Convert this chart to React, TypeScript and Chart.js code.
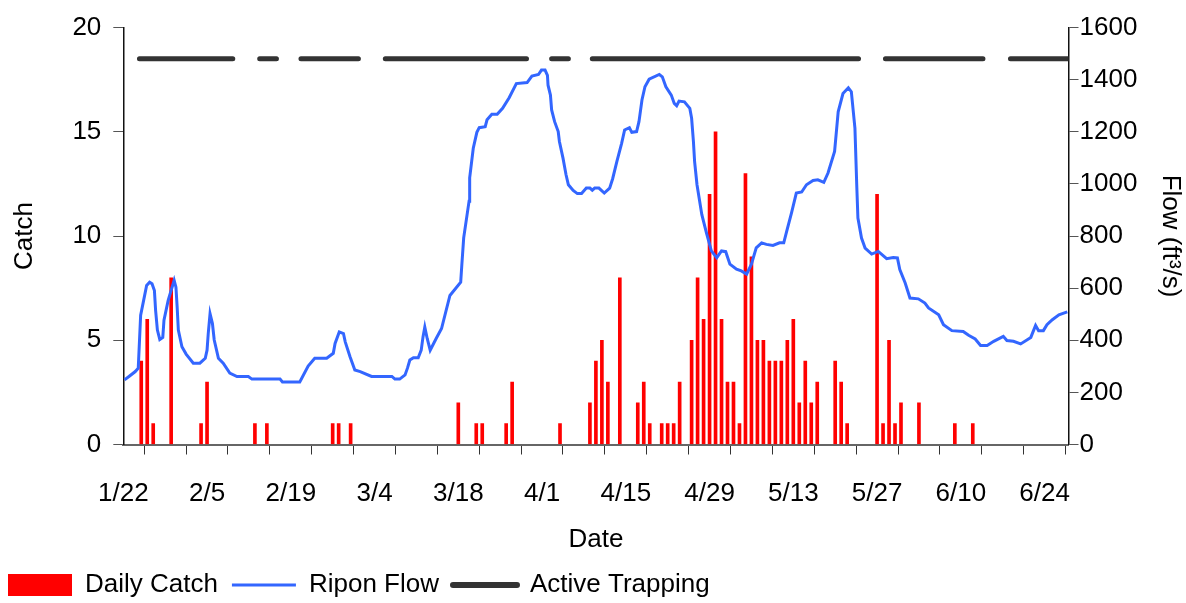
import React, { useEffect, useRef } from "react";
import { Chart, registerables } from "chart.js";

Chart.register(...registerables);

// Day index 0 = 1/22 (leap year, Feb has 29 days)
const tickLabels = ["1/22", "2/5", "2/19", "3/4", "3/18", "4/1", "4/15", "4/29", "5/13", "5/27", "6/10", "6/24"];

const catchDays = [3, 4, 5, 8, 13, 14, 22, 24, 35, 36, 38, 56, 59, 60, 64, 65, 73, 78, 79, 80, 81, 83, 86, 87, 88, 90, 91, 92, 93, 95, 96, 97, 98, 99, 100, 101, 102, 103, 104, 105, 106, 107, 108, 109, 110, 111, 112, 113, 114, 115, 116, 119, 120, 121, 126, 127, 128, 129, 130, 133, 139, 142];
const catchValues = [4, 6, 1, 8, 1, 3, 1, 1, 1, 1, 1, 2, 1, 1, 1, 3, 1, 2, 4, 5, 3, 8, 2, 3, 1, 1, 1, 1, 3, 5, 8, 6, 12, 15, 6, 3, 3, 1, 13, 9, 5, 5, 4, 4, 4, 5, 6, 2, 4, 2, 3, 4, 3, 1, 12, 1, 5, 1, 2, 2, 1, 1];

const flowDays = [0.2, 1.0, 2.0, 2.5, 2.9, 3.4, 3.9, 4.4, 4.8, 5.2, 5.4, 5.7, 6.1, 6.6, 6.8, 7.5, 8.5, 8.8, 9.0, 9.2, 9.8, 10.5, 11.7, 12.8, 13.7, 14.0, 14.2, 14.5, 14.9, 15.2, 15.9, 16.7, 17.8, 19.0, 20.9, 21.5, 26.2, 26.6, 29.5, 30.9, 32.0, 34.0, 35.1, 35.4, 36.1, 36.8, 37.1, 37.9, 38.7, 39.6, 41.5, 44.9, 45.4, 46.2, 47.1, 47.5, 47.9, 48.5, 49.3, 49.8, 50.1, 50.4, 50.8, 51.3, 52.3, 53.2, 54.6, 56.4, 56.6, 56.9, 57.8, 57.9, 58.5, 59.1, 59.5, 60.5, 60.8, 61.6, 62.5, 63.4, 64.5, 65.7, 67.5, 68.3, 69.4, 69.9, 70.5, 70.9, 71.0, 71.4, 71.6, 72.1, 72.7, 72.9, 73.5, 74.0, 74.4, 75.2, 75.9, 76.6, 77.4, 78.0, 78.4, 78.8, 79.5, 80.4, 81.3, 81.8, 82.5, 83.3, 83.8, 84.6, 85.0, 85.8, 86.2, 86.7, 87.2, 87.9, 89.6, 90.1, 90.7, 91.6, 92.1, 92.5, 92.9, 93.8, 94.7, 95.0, 95.3, 95.5, 95.9, 96.7, 97.5, 98.3, 99.2, 100.0, 100.7, 101.4, 102.5, 103.3, 104.2, 105.0, 105.8, 106.7, 107.5, 108.6, 109.7, 110.4, 110.9, 111.7, 112.5, 113.4, 114.2, 115.3, 116.1, 117.1, 117.8, 118.9, 119.5, 120.3, 121.2, 121.7, 122.3, 122.6, 122.8, 123.4, 124.0, 125.1, 126.2, 127.6, 128.7, 129.4, 129.8, 130.7, 131.5, 132.9, 134.0, 134.6, 136.3, 137.1, 138.5, 140.4, 141.3, 142.4, 143.3, 144.4, 145.5, 147.1, 147.7, 148.8, 150.0, 151.7, 152.1, 152.5, 153.0, 153.8, 154.4, 155.3, 156.4, 157.8];
const flowValues = [248, 262, 280, 293, 496, 553, 610, 623, 617, 591, 515, 439, 403, 411, 477, 553, 630, 604, 528, 439, 375, 347, 312, 312, 331, 362, 426, 502, 464, 401, 331, 312, 274, 261, 261, 251, 251, 240, 240, 301, 331, 331, 350, 388, 432, 426, 394, 337, 286, 280, 261, 261, 251, 251, 267, 293, 324, 333, 333, 362, 413, 451, 407, 362, 407, 445, 572, 623, 693, 793, 934, 1023, 1137, 1198, 1216, 1220, 1246, 1267, 1267, 1290, 1331, 1385, 1389, 1414, 1420, 1437, 1437, 1417, 1379, 1341, 1284, 1239, 1201, 1163, 1099, 1036, 997, 975, 963, 963, 984, 984, 976, 984, 984, 965, 984, 1020, 1086, 1156, 1207, 1216, 1198, 1201, 1239, 1322, 1373, 1402, 1420, 1411, 1373, 1341, 1309, 1300, 1318, 1315, 1290, 1252, 1163, 1086, 997, 883, 810, 743, 717, 743, 740, 692, 673, 666, 654, 692, 755, 774, 768, 764, 774, 774, 819, 889, 965, 969, 997, 1013, 1016, 1006, 1042, 1125, 1277, 1347, 1369, 1354, 1214, 997, 869, 792, 754, 731, 741, 713, 718, 716, 671, 620, 562, 559, 543, 524, 498, 460, 437, 434, 419, 405, 380, 380, 396, 415, 399, 396, 386, 411, 434, 457, 437, 437, 460, 479, 498, 509];

const trapStart = [2.7, 22.8, 29.7, 43.8, 71.6, 78.4, 127.4, 148.3];
const trapEnd = [18.3, 25.6, 39.3, 67.4, 74.4, 122.9, 143.7, 158];
const trapLevel = 18.5;

const FONT = '"Liberation Sans", Arial, sans-serif';
const FS = 26;

export default function App() {
  const ref = useRef<HTMLCanvasElement | null>(null);

  useEffect(() => {
    if (!ref.current) return;
    const barData = catchDays.map((d, i) => ({ x: d, y: catchValues[i] }));
    const flowData = flowDays.map((d, i) => ({ x: d, y: flowValues[i] }));
    const trapData: { x: number; y: number | null }[] = [];
    trapStart.forEach((s, i) => {
      trapData.push({ x: s, y: trapLevel });
      trapData.push({ x: trapEnd[i], y: trapLevel });
      if (i < trapStart.length - 1) trapData.push({ x: (trapEnd[i] + trapStart[i + 1]) / 2, y: null });
    });

    const chart = new Chart(ref.current, {
      type: "bar",
      data: {
        datasets: [
          {
            type: "bar",
            label: "Daily Catch",
            data: barData as any,
            backgroundColor: "#ff0000",
            barThickness: 3,
            yAxisID: "y",
            order: 2,
          },
          {
            type: "line",
            label: "Ripon Flow",
            data: flowData as any,
            borderColor: "#3366ff",
            borderWidth: 3,
            pointRadius: 0,
            tension: 0,
            yAxisID: "y1",
            order: 1,
          },
          {
            type: "line",
            label: "Active Trapping",
            data: trapData as any,
            borderColor: "#333333",
            borderWidth: 5,
            borderCapStyle: "round",
            pointRadius: 0,
            spanGaps: false,
            yAxisID: "y",
            order: 0,
          },
        ],
      },
      options: {
        animation: false,
        responsive: true,
        maintainAspectRatio: false,
        font: { family: FONT },
        layout: { padding: { left: -6, right: 0, top: 22, bottom: -5 } },
        plugins: {
          tooltip: { enabled: false },
          legend: {
            position: "bottom",
            align: "start",
            labels: {
              usePointStyle: true,
              pointStyleWidth: 64,
              boxHeight: 22,
              padding: 14,
              color: "#000",
              font: { family: FONT, size: FS },
              generateLabels: () => [
                { text: "Daily Catch", fillStyle: "#ff0000", strokeStyle: "#ff0000", lineWidth: 0, pointStyle: "rect", datasetIndex: 0, hidden: false } as any,
                { text: "Ripon Flow", fillStyle: "#3366ff", strokeStyle: "#3366ff", lineWidth: 3, pointStyle: "line", datasetIndex: 1, hidden: false } as any,
                { text: "Active Trapping", fillStyle: "#333333", strokeStyle: "#333333", lineWidth: 6, lineCap: "round", pointStyle: "line", datasetIndex: 2, hidden: false } as any,
              ],
            },
          },
        },
        scales: {
          x: {
            type: "linear",
            min: 0,
            max: 158,
            offset: false,
            ticks: {
              stepSize: 7,
              autoSkip: false,
              includeBounds: false,
              maxRotation: 0,
              color: "#000",
              padding: 24,
              font: { family: FONT, size: FS },
              callback: (v: any) => (Number(v) % 14 === 0 ? tickLabels[Number(v) / 14] ?? "" : ""),
            },
            grid: { drawOnChartArea: false, drawTicks: true, tickLength: 10, color: "#333" },
            border: { color: "#666", width: 2 },
            title: { display: true, text: "Date", color: "#000", font: { family: FONT, size: FS }, padding: { top: 0, bottom: 2.4 } },
            afterFit: (s: any) => {
              s.height = 113.5;
            },
          },
          y: {
            position: "left",
            min: 0,
            max: 20,
            ticks: { stepSize: 5, color: "#000", padding: 12, font: { family: FONT, size: FS } },
            grid: { drawOnChartArea: false, drawTicks: true, tickLength: 10, color: "#555" },
            border: { color: "#111", width: 1.5 },
            title: { display: true, text: "Catch", color: "#000", font: { family: FONT, size: FS }, padding: { top: 15, bottom: 0 } },
            afterFit: (s: any) => {
              s.width = 129.3;
            },
          },
          y1: {
            position: "right",
            min: 0,
            max: 1600,
            ticks: {
              stepSize: 200,
              color: "#000",
              padding: 1,
              font: { family: FONT, size: FS },
              callback: (v: any) => String(v),
            },
            grid: { drawOnChartArea: false, drawTicks: true, tickLength: 10, color: "#555" },
            border: { color: "#111", width: 1.5 },
            title: { display: true, text: "Flow (ft³/s)", color: "#000", font: { family: FONT, size: FS }, padding: { top: 0, bottom: 0 } },
            afterFit: (s: any) => {
              s.width = 117.5;
            },
          },
        },
      } as any,
    });
    return () => chart.destroy();
  }, []);

  return (
    <div style={{ position: "fixed", left: 0, top: 0, width: 1186, height: 603, background: "#fff" }}>
      <canvas ref={ref} />
    </div>
  );
}
